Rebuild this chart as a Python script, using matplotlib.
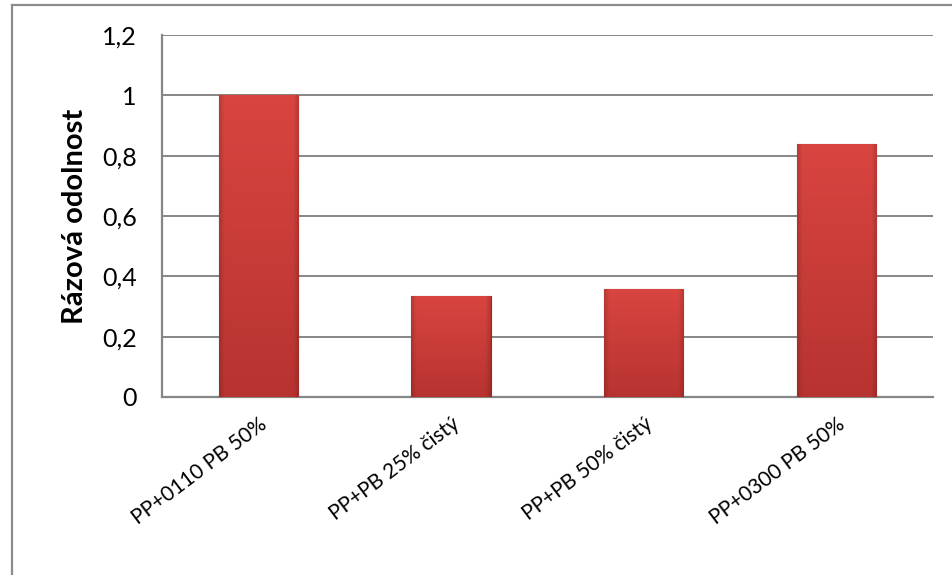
import numpy as np
import matplotlib.pyplot as plt
from matplotlib.lines import Line2D

# Rázová odolnost jednotlivých směsí
kategorie = ['PP+0110 PB 50%', 'PP+PB 25% čistý', 'PP+PB 50% čistý', 'PP+0300 PB 50%']
hodnoty = [1.0, 0.335, 0.358, 0.838]
y_ticky = [0, 0.2, 0.4, 0.6, 0.8, 1.0, 1.2]
y_popisky = ['0', '0,2', '0,4', '0,6', '0,8', '1', '1,2']

plt.rcParams['font.family'] = ['Lato', 'DejaVu Sans']

fig = plt.figure(figsize=(9.52, 5.75), dpi=100)
ax = fig.add_axes([0.170, 0.3096, 0.810, 0.6295])

x = np.arange(len(kategorie))
bars = ax.bar(x, hodnoty, width=0.41, color='#C43A38', edgecolor='#8E2A27',
              linewidth=0.8, zorder=3)

# gradient s tmavšími okraji (efekt zkosení)
ny, nx = 200, 60
yy = np.linspace(0, 1, ny)[:, None]
xx = np.linspace(0, 1, nx)[None, :]
top = np.array([0.85, 0.27, 0.25])
bot = np.array([0.72, 0.20, 0.19])
base = bot + (top - bot) * yy[..., None]
edge = np.minimum(xx, 1 - xx)
shade = 0.85 + 0.15 * np.clip(edge / 0.06, 0, 1)
img = base * shade[..., None]
for b in bars:
    x0, y0 = b.get_x(), b.get_y()
    w, h = b.get_width(), b.get_height()
    im = ax.imshow(img, extent=[x0, x0 + w, y0, y0 + h], origin='lower',
                   aspect='auto', zorder=3.5, interpolation='bilinear')
    im.set_clip_path(b)

ax.set_xlim(-0.5, len(kategorie) - 0.5)
ax.set_ylim(0, 1.2)
ax.set_yticks(y_ticky)
ax.set_yticklabels(y_popisky, fontsize=18)
ax.set_xticks(x)
ax.set_xticklabels(kategorie, fontsize=15, rotation=37, ha='right',
                   rotation_mode='anchor')
ax.tick_params(axis='y', length=0, pad=18)
ax.tick_params(axis='x', length=0, pad=12)

ax.yaxis.grid(True, color='#868686', linewidth=1.4, zorder=0)
ax.set_axisbelow(True)
for s in ['top', 'right']:
    ax.spines[s].set_visible(False)
for s in ['left', 'bottom']:
    ax.spines[s].set_color('#868686')
    ax.spines[s].set_linewidth(1.6)

ax.set_ylabel('Rázová odolnost', fontsize=21, fontweight='bold')
ax.yaxis.set_label_coords(-0.096, 0.5)

# rámeček grafu
fig.add_artist(Line2D([0.0121, 1.0], [0.9905, 0.9905], color='#8C8C8C', linewidth=1.6))
fig.add_artist(Line2D([0.0121, 0.0121], [0.0, 0.9905], color='#8C8C8C', linewidth=1.6))

fig.savefig('out.png', dpi=100)
